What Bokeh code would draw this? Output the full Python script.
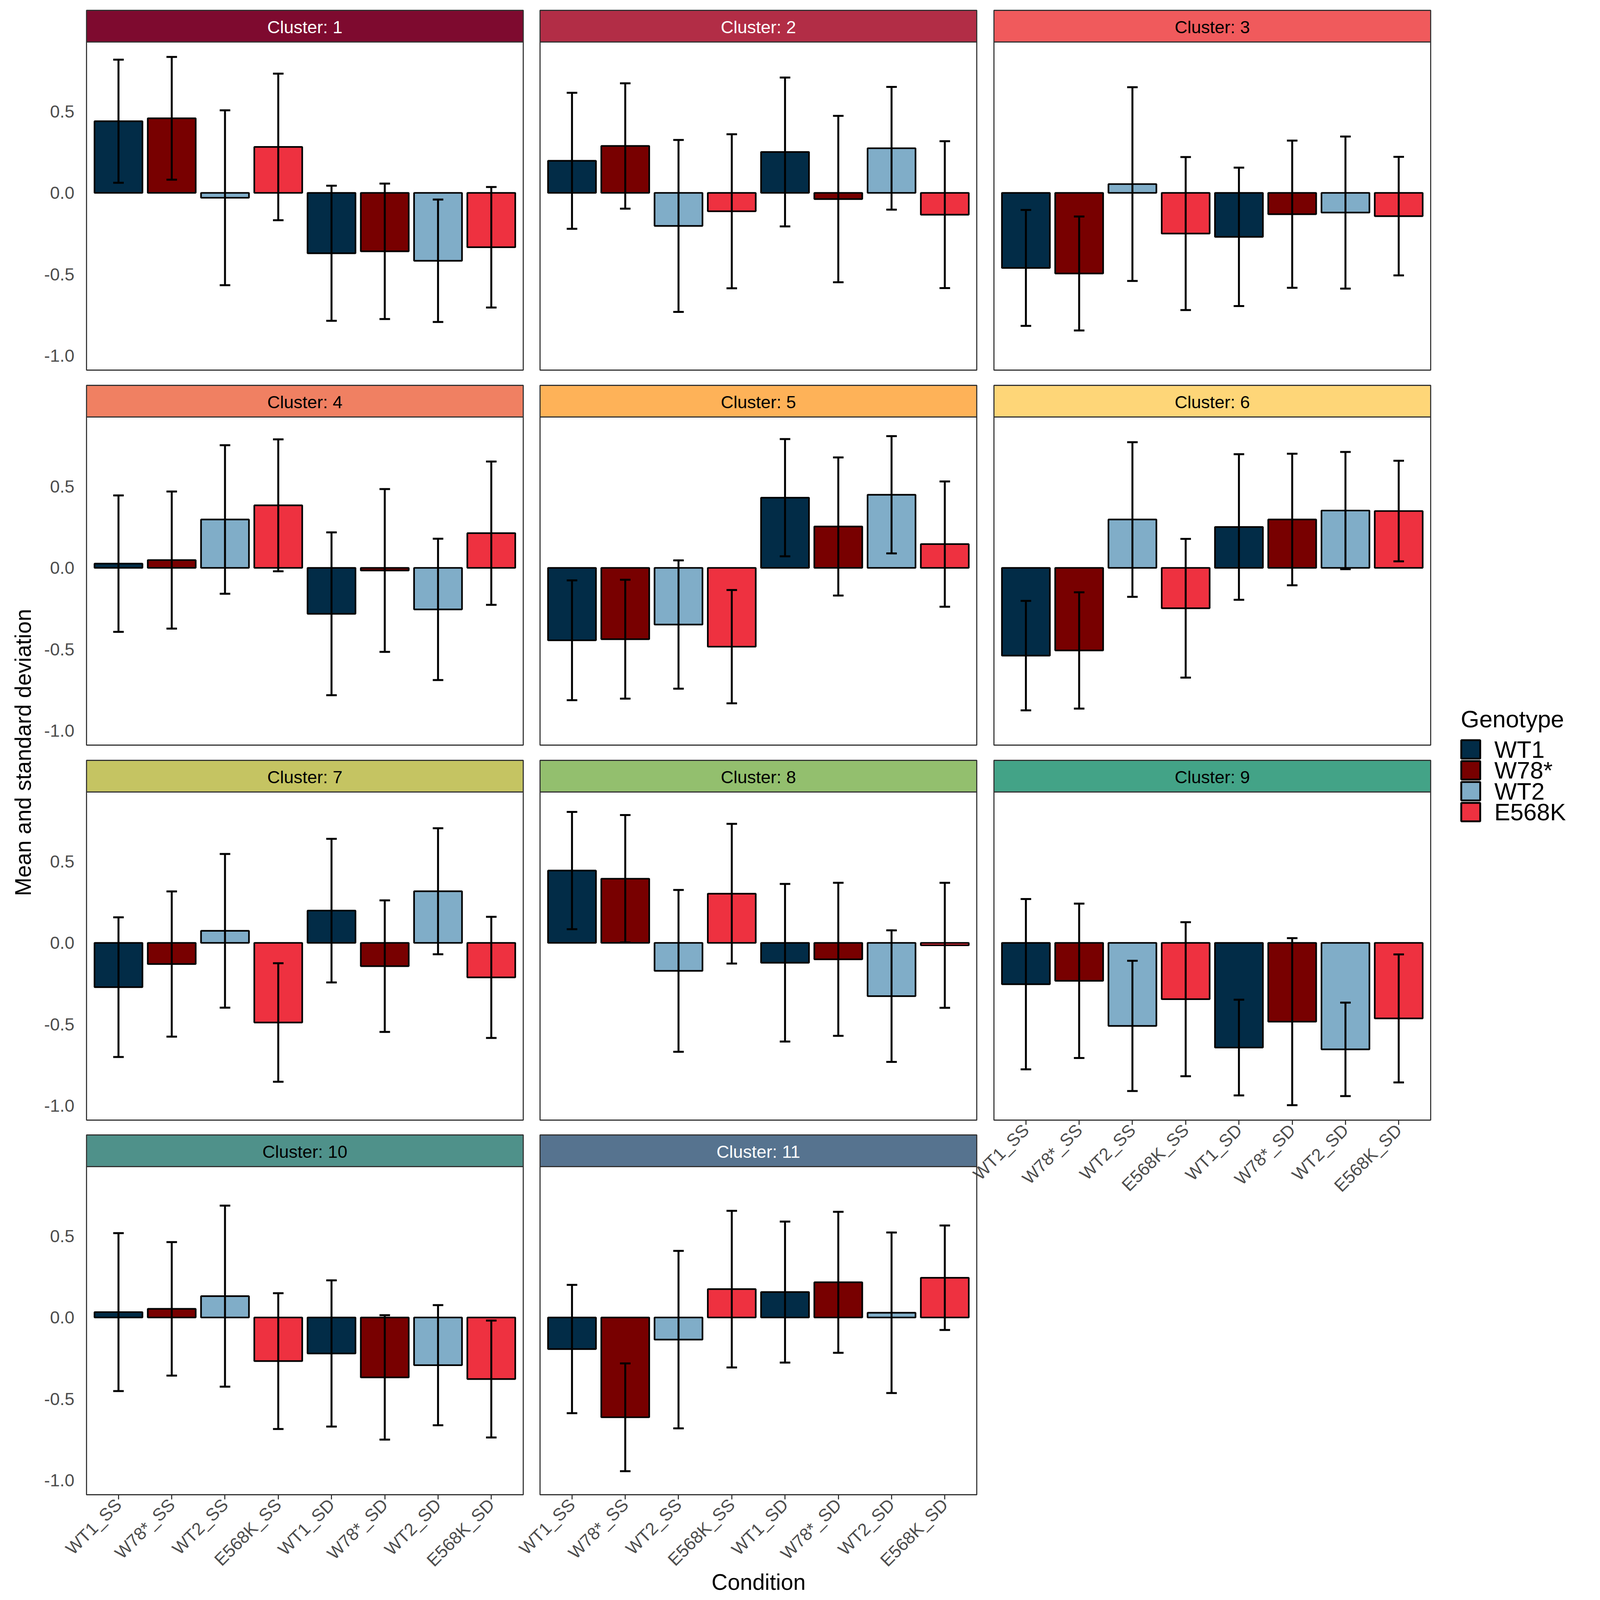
import math
from bokeh.plotting import figure
from bokeh.models import (ColumnDataSource, FactorRange, Range1d, Whisker, TeeHead,
                          FixedTicker, PrintfTickFormatter)
from bokeh.transform import factor_cmap
from bokeh.core.properties import value
from bokeh.embed import file_html
from bokeh.resources import INLINE

# ---------------- data ----------------
conditions = ["WT1_SS", "W78*_SS", "WT2_SS", "E568K_SS",
              "WT1_SD", "W78*_SD", "WT2_SD", "E568K_SD"]
condition_genotype = ["WT1", "W78*", "WT2", "E568K", "WT1", "W78*", "WT2", "E568K"]
genotypes = ["WT1", "W78*", "WT2", "E568K"]
genotype_colors = ["#022C47", "#780000", "#80ADC8", "#EE3140"]

cluster_ids = [1, 2, 3, 4, 5, 6, 7, 8, 9, 10, 11]
strip_colors = ["#7E0A2F", "#B22D46", "#F05A5C", "#F08062", "#FEB258", "#FED678",
                "#C5C462", "#93BF6E", "#43A387", "#4F918A", "#56738F"]
strip_text_colors = ["white", "white", "black", "black", "black", "black",
                     "black", "black", "black", "black", "white"]

mean_1 = [0.440, 0.458, -0.030, 0.282, -0.371, -0.359, -0.417, -0.334]
sd_1 = [0.378, 0.377, 0.537, 0.450, 0.415, 0.416, 0.376, 0.370]
mean_2 = [0.197, 0.288, -0.203, -0.113, 0.251, -0.038, 0.274, -0.134]
sd_2 = [0.418, 0.385, 0.528, 0.473, 0.457, 0.511, 0.377, 0.451]
mean_3 = [-0.461, -0.495, 0.054, -0.250, -0.270, -0.131, -0.121, -0.143]
sd_3 = [0.356, 0.350, 0.595, 0.470, 0.425, 0.452, 0.467, 0.364]
mean_4 = [0.026, 0.048, 0.297, 0.384, -0.282, -0.016, -0.255, 0.213]
sd_4 = [0.419, 0.421, 0.456, 0.405, 0.500, 0.500, 0.434, 0.440]
mean_5 = [-0.445, -0.438, -0.348, -0.484, 0.431, 0.254, 0.449, 0.146]
sd_5 = [0.368, 0.365, 0.394, 0.348, 0.360, 0.424, 0.360, 0.385]
mean_6 = [-0.539, -0.507, 0.297, -0.248, 0.251, 0.297, 0.352, 0.349]
sd_6 = [0.336, 0.357, 0.475, 0.426, 0.447, 0.404, 0.360, 0.309]
mean_7 = [-0.272, -0.130, 0.074, -0.489, 0.198, -0.143, 0.317, -0.212]
sd_7 = [0.429, 0.446, 0.472, 0.364, 0.441, 0.404, 0.387, 0.372]
mean_8 = [0.444, 0.394, -0.172, 0.302, -0.122, -0.101, -0.327, -0.015]
sd_8 = [0.360, 0.391, 0.497, 0.429, 0.484, 0.470, 0.404, 0.384]
mean_9 = [-0.254, -0.233, -0.510, -0.346, -0.643, -0.484, -0.654, -0.464]
sd_9 = [0.523, 0.474, 0.400, 0.473, 0.294, 0.513, 0.287, 0.393]
mean_10 = [0.033, 0.053, 0.131, -0.268, -0.221, -0.368, -0.293, -0.378]
sd_10 = [0.485, 0.410, 0.556, 0.417, 0.449, 0.382, 0.369, 0.359]
mean_11 = [-0.194, -0.613, -0.136, 0.174, 0.156, 0.216, 0.029, 0.244]
sd_11 = [0.394, 0.331, 0.545, 0.481, 0.433, 0.433, 0.493, 0.321]

y_ticks = [-1.0, -0.5, 0.0, 0.5]

means = [mean_1, mean_2, mean_3, mean_4, mean_5, mean_6, mean_7, mean_8, mean_9, mean_10, mean_11]
sds = [sd_1, sd_2, sd_3, sd_4, sd_5, sd_6, sd_7, sd_8, sd_9, sd_10, sd_11]

# ---------------- layout (the visible page area is about 4096 x 4096 px) ----------------
FONT = "Liberation Sans"
VIEW = 4096
SX, SY = VIEW / 6000.0, VIEW / 7200.0
FS = math.sqrt(SX * SY)
W = H = VIEW - 16
POS = {"position": "absolute", "left": "8px", "top": "8px"}


def PX(X):
    return X * SX - 8


def PY(Y):
    return Y * SY - 8


def fy(y):
    return H - y


COL_LEFT = [round(PX(x)) for x in (323, 2025, 3727)]
PANEL_W = round(1638 * SX)
ROW_TOP = [round(PY(46 + 1687 * k)) for k in range(4)]
STRIP_H = round(143 * SY)
PANEL_H = round(1477 * SY)

TICK_PX = "%dpx" % round(72 * FS)
STRIP_PX = "%dpx" % round(72 * FS)
TITLE_PX = "%dpx" % round(92 * FS)
LEG_PX = "%dpx" % round(98 * FS)
LW_BAR, LW_ERR, LW_BORDER = 4.2, 5.0, 2.8

lo_all = min(m - s for ms, ss in zip(means, sds) for m, s in zip(ms, ss))
hi_all = max(m + s for ms, ss in zip(means, sds) for m, s in zip(ms, ss))
pad = 0.05 * (hi_all - lo_all)
Y0, Y1 = lo_all - pad, hi_all + pad

n = len(cluster_ids)

# ---------------- decoration figure (strips, titles, legend) ----------------
deco = figure(width=W, height=H, x_range=Range1d(0, W), y_range=Range1d(0, H),
              min_border=0, title=None, tools="", toolbar_location=None,
              x_axis_location=None, y_axis_location=None, output_backend="svg",
              background_fill_color=None, border_fill_color=None, outline_line_color=None,
              styles=dict(POS))
deco.xgrid.visible = False
deco.ygrid.visible = False

s_left, s_right, s_top, s_bot, s_cx, s_cy = [], [], [], [], [], []
for i in range(n):
    r, c = divmod(i, 3)
    s_left.append(COL_LEFT[c])
    s_right.append(COL_LEFT[c] + PANEL_W)
    s_top.append(fy(ROW_TOP[r]))
    s_bot.append(fy(ROW_TOP[r] + STRIP_H))
    s_cx.append(COL_LEFT[c] + PANEL_W / 2)
    s_cy.append(fy(ROW_TOP[r] + STRIP_H / 2 + 2))
strip_src = ColumnDataSource(dict(left=s_left, right=s_right, top=s_top, bottom=s_bot,
                                  cx=s_cx, cy=s_cy, fill=strip_colors,
                                  tcol=strip_text_colors,
                                  label=["Cluster: %d" % k for k in cluster_ids]))
deco.quad(left="left", right="right", top="top", bottom="bottom", source=strip_src,
          fill_color="fill", line_color="#333333", line_width=LW_BORDER)
deco.text(x="cx", y="cy", text="label", source=strip_src, text_color="tcol",
          text_align="center", text_baseline="middle",
          text_font=value(FONT), text_font_size=value(STRIP_PX))

# axis titles
deco.text(x=[(COL_LEFT[0] + COL_LEFT[2] + PANEL_W) / 2], y=[fy(PY(7118))], text=["Condition"],
          text_align="center", text_baseline="middle", text_color="black",
          text_font=value(FONT), text_font_size=value(TITLE_PX))
deco.text(x=[PX(85)], y=[fy((ROW_TOP[0] + ROW_TOP[3] + STRIP_H + PANEL_H) / 2)],
          text=["Mean and standard deviation"], angle=math.pi / 2,
          text_align="center", text_baseline="middle", text_color="black",
          text_font=value(FONT), text_font_size=value(TITLE_PX))

# legend
deco.text(x=[PX(5477)], y=[fy(PY(3236))], text=["Genotype"], text_align="left",
          text_baseline="middle", text_color="black",
          text_font=value(FONT), text_font_size=value(LEG_PX))
kk = range(len(genotypes))
leg_src = ColumnDataSource(dict(
    left=[PX(5479)] * len(genotypes),
    right=[PX(5550)] * len(genotypes),
    top=[fy(PY(3330 + 94 * k)) for k in kk],
    bottom=[fy(PY(3413 + 94 * k)) for k in kk],
    tx=[PX(5603)] * len(genotypes),
    ty=[fy(PY(3372 + 94 * k)) for k in kk],
    label=genotypes, fill=genotype_colors))
deco.quad(left="left", right="right", top="top", bottom="bottom", source=leg_src,
          fill_color="fill", line_color="black", line_width=4.8)
deco.text(x="tx", y="ty", text="label", source=leg_src, text_align="left",
          text_baseline="middle", text_color="black",
          text_font=value(FONT), text_font_size=value(LEG_PX))

# ---------------- panel figures ----------------
panels = []
for i in range(n):
    r, c = divmod(i, 3)
    show_y = (c == 0)
    show_x = (i + 3 >= n)
    left = COL_LEFT[c]
    top = ROW_TOP[r] + STRIP_H
    p = figure(width=W, height=H, title=None, tools="", toolbar_location=None,
               output_backend="svg",
               x_range=FactorRange(factors=conditions, range_padding=0.1,
                                   range_padding_units="absolute"),
               y_range=Range1d(Y0, Y1),
               x_axis_location="below" if show_x else None,
               y_axis_location="left" if show_y else None,
               min_border_left=left, min_border_right=W - left - PANEL_W,
               min_border_top=top, min_border_bottom=H - top - PANEL_H,
               background_fill_color=None, border_fill_color=None,
               outline_line_color="#333333", outline_line_width=LW_BORDER,
               styles=dict(POS))
    p.xgrid.visible = False
    p.ygrid.visible = False

    m = means[i]
    s = sds[i]
    src = ColumnDataSource(dict(cond=conditions, genotype=condition_genotype, mean=m,
                                upper=[a + b for a, b in zip(m, s)],
                                lower=[a - b for a, b in zip(m, s)]))
    p.vbar(x="cond", top="mean", bottom=0, width=0.9, source=src,
           fill_color=factor_cmap("genotype", palette=genotype_colors, factors=genotypes),
           line_color="black", line_width=LW_BAR)
    w = Whisker(source=src, base="cond", upper="upper", lower="lower",
                line_color="black", line_width=LW_ERR, level="overlay",
                upper_head=TeeHead(size=round(40 * SX), line_color="black", line_width=LW_ERR),
                lower_head=TeeHead(size=round(40 * SX), line_color="black", line_width=LW_ERR))
    p.add_layout(w)

    if show_y:
        ax = p.yaxis[0]
        ax.ticker = FixedTicker(ticks=y_ticks, minor_ticks=[])
        ax.formatter = PrintfTickFormatter(format="%.1f")
        ax.major_tick_out = 0
        ax.major_tick_in = 0
        ax.minor_tick_out = 0
        ax.minor_tick_in = 0
        ax.axis_line_color = None
        ax.major_label_standoff = round(46 * SX)
        ax.major_label_text_font = FONT
        ax.major_label_text_font_size = TICK_PX
        ax.major_label_text_color = "#4D4D4D"
    if show_x:
        ax = p.xaxis[0]
        ax.major_label_orientation = math.pi / 4
        ax.major_tick_out = round(21 * SY)
        ax.major_tick_in = 0
        ax.major_tick_line_color = "#333333"
        ax.major_tick_line_width = LW_BORDER
        ax.axis_line_color = None
        ax.major_label_standoff = 6
        ax.major_label_text_font = FONT
        ax.major_label_text_font_size = TICK_PX
        ax.major_label_text_color = "#4D4D4D"
    panels.append(p)

roots = [deco] + panels
open("out.html", "w").write(file_html(roots, INLINE))
